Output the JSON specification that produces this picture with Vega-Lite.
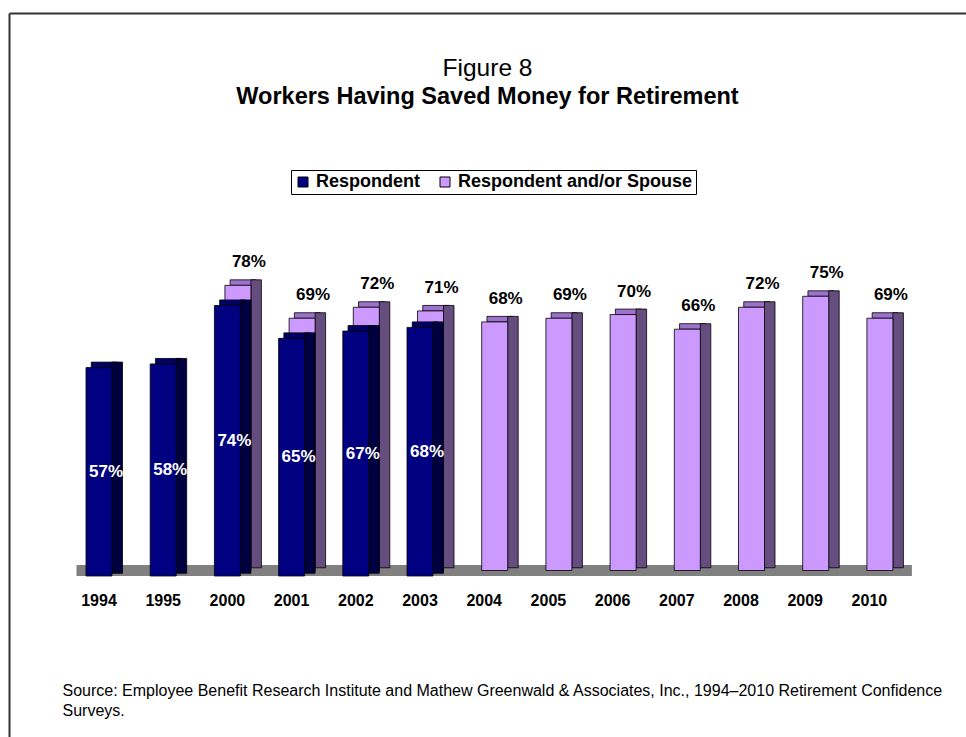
{
  "$schema": "https://vega.github.io/schema/vega-lite/v6.json",
  "autosize": {"type": "none"},
  "padding": {"left": 9, "top": 130, "right": 0, "bottom": 0},
  "width": 957,
  "height": 607,
  "background": "white",
  "title": {
    "text": "Figure 8",
    "subtitle": "Workers Having Saved Money for Retirement",
    "anchor": "middle",
    "frame": "group",
    "offset": -96,
    "font": "Liberation Sans",
    "fontSize": 24.5,
    "fontWeight": "normal",
    "color": "black",
    "subtitleFont": "Liberation Sans",
    "subtitleFontSize": 23.5,
    "subtitleFontWeight": "bold",
    "subtitleColor": "black",
    "subtitlePadding": 3
  },
  "config": {
    "view": {"stroke": null},
    "font": "Liberation Sans",
    "legend": {
      "orient": "none",
      "legendX": 282,
      "legendY": 40,
      "direction": "horizontal",
      "strokeColor": "black",
      "fillColor": "white",
      "padding": 3,
      "symbolType": "square",
      "symbolSize": 100,
      "symbolStrokeColor": "black",
      "symbolStrokeWidth": 1,
      "labelFont": "Liberation Sans",
      "labelFontSize": 18,
      "labelFontWeight": "bold",
      "labelColor": "black",
      "labelLimit": 0,
      "columnPadding": 15,
      "labelOffset": 4
    }
  },
  "data": {
    "values": [
      {"year": "1994", "respondent": 0.57, "spouse": null},
      {"year": "1995", "respondent": 0.58, "spouse": null},
      {"year": "2000", "respondent": 0.74, "spouse": 0.78},
      {"year": "2001", "respondent": 0.65, "spouse": 0.69},
      {"year": "2002", "respondent": 0.67, "spouse": 0.72},
      {"year": "2003", "respondent": 0.68, "spouse": 0.71},
      {"year": "2004", "respondent": null, "spouse": 0.68},
      {"year": "2005", "respondent": null, "spouse": 0.69},
      {"year": "2006", "respondent": null, "spouse": 0.70},
      {"year": "2007", "respondent": null, "spouse": 0.66},
      {"year": "2008", "respondent": null, "spouse": 0.72},
      {"year": "2009", "respondent": null, "spouse": 0.75},
      {"year": "2010", "respondent": null, "spouse": 0.69}
    ]
  },
  "resolve": {"scale": {"x": "independent", "y": "independent"}},
  "layer": [
    {
      "mark": {"type": "point", "opacity": 0},
      "encoding": {
        "x": {"datum": 0, "type": "quantitative", "scale": {"domain": [0, 1], "range": [0, 957]},
          "axis": {"orient": "top", "offset": 117, "domain": true, "domainColor": "#333333", "domainWidth": 2, "labels": false, "ticks": false, "grid": false, "title": null}},
        "y": {"datum": 0, "type": "quantitative", "scale": {"domain": [0, 1], "range": [607, -117]},
          "axis": {"orient": "left", "offset": 0, "domain": true, "domainColor": "#333333", "domainWidth": 2, "labels": false, "ticks": false, "grid": false, "title": null}}
      }
    },
    {
      "encoding": {
        "x": {
          "field": "year", "type": "ordinal",
          "scale": {"domain": ["1994","1995","2000","2001","2002","2003","2004","2005","2006","2007","2008","2009","2010"], "range": [57.9, 892.5], "paddingInner": 0, "paddingOuter": 0},
          "axis": {
            "orient": "bottom", "offset": -161, "domain": false, "ticks": false, "grid": false,
            "labelFont": "Liberation Sans", "labelFontSize": 16, "labelFontWeight": "bold", "labelColor": "black", "labelPadding": 16, "labelAngle": 0,
            "title": ["Source:  Employee Benefit Research Institute and Mathew Greenwald & Associates, Inc., 1994–2010 Retirement Confidence", "Surveys."],
            "titleFont": "Liberation Sans", "titleFontSize": 16, "titleFontWeight": "normal", "titleColor": "black",
            "titleAlign": "left", "titleAnchor": "start", "titleX": 53, "titleY": 106, "titleBaseline": "top", "titleLineHeight": 20
          }
        }
      },
      "layer": [
        {
          "mark": {"type": "bar", "color": "#808080", "width": 65, "xOffset": 10, "yOffset": -11, "y2Offset": 0},
          "encoding": {
            "y": {"datum": 0, "type": "quantitative", "scale": {"domain": [0, 1], "range": [446, 80.4]}, "axis": null},
            "y2": {"datum": 0}
          }
        },
        {
          "mark": {"type": "bar", "color": "#9E72CC", "stroke": "black", "strokeWidth": 0.8, "width": 26, "xOffset": 15.75, "yOffset": -11, "y2Offset": -5.5},
          "encoding": {
            "y": {"field": "spouse", "type": "quantitative", "axis": null},
            "y2": {"field": "spouse"}
          }
        },
        {
          "mark": {"type": "bar", "color": "#664D80", "stroke": "black", "strokeWidth": 0.8, "width": 10.5, "xOffset": 28.75, "yOffset": -11, "y2Offset": -8.25},
          "encoding": {
            "y": {"field": "spouse", "type": "quantitative", "axis": null},
            "y2": {"datum": 0}
          }
        },
        {
          "mark": {"type": "bar", "stroke": "black", "strokeWidth": 0.8, "width": 26, "xOffset": 10.5, "yOffset": -5.5, "y2Offset": -5.5},
          "encoding": {
            "y": {"field": "spouse", "type": "quantitative", "axis": null},
            "y2": {"datum": 0},
            "color": {"datum": "Respondent and/or Spouse", "type": "nominal",
              "scale": {"domain": ["Respondent", "Respondent and/or Spouse"], "range": ["#000080", "#CC99FF"]},
              "legend": {"title": null}}
          }
        },
        {
          "mark": {"type": "bar", "color": "#000066", "stroke": "black", "strokeWidth": 0.8, "width": 26, "xOffset": 5.25, "yOffset": -5.5, "y2Offset": 0},
          "encoding": {
            "y": {"field": "respondent", "type": "quantitative", "axis": null},
            "y2": {"field": "respondent"}
          }
        },
        {
          "mark": {"type": "bar", "color": "#000040", "stroke": "black", "strokeWidth": 0.8, "width": 10.5, "xOffset": 18.25, "yOffset": -5.5, "y2Offset": -2.75},
          "encoding": {
            "y": {"field": "respondent", "type": "quantitative", "axis": null},
            "y2": {"datum": 0}
          }
        },
        {
          "mark": {"type": "bar", "stroke": "black", "strokeWidth": 0.8, "width": 26},
          "encoding": {
            "y": {"field": "respondent", "type": "quantitative", "axis": null},
            "y2": {"datum": 0},
            "color": {"datum": "Respondent", "type": "nominal"}
          }
        },
        {
          "mark": {"type": "text", "font": "Liberation Sans", "fontSize": 17, "fontWeight": "bold", "color": "black", "baseline": "middle", "align": "center", "dx": 21.5, "dy": -28.5},
          "encoding": {
            "y": {"field": "spouse", "type": "quantitative", "axis": null},
            "text": {"field": "spouse", "type": "quantitative", "format": ".0%"}
          }
        }
      ]
    },
    {
      "mark": {"type": "text", "font": "Liberation Sans", "fontSize": 17, "fontWeight": "bold", "color": "white", "baseline": "middle", "align": "center", "dx": 7},
      "encoding": {
        "x": {"field": "year", "type": "ordinal",
          "scale": {"domain": ["1994","1995","2000","2001","2002","2003","2004","2005","2006","2007","2008","2009","2010"], "range": [57.9, 892.5], "paddingInner": 0, "paddingOuter": 0},
          "axis": null},
        "y": {"field": "respondent", "type": "quantitative", "scale": {"domain": [0, 1], "range": [446, 263.2]}, "axis": null},
        "text": {"field": "respondent", "type": "quantitative", "format": ".0%"}
      }
    }
  ]
}
